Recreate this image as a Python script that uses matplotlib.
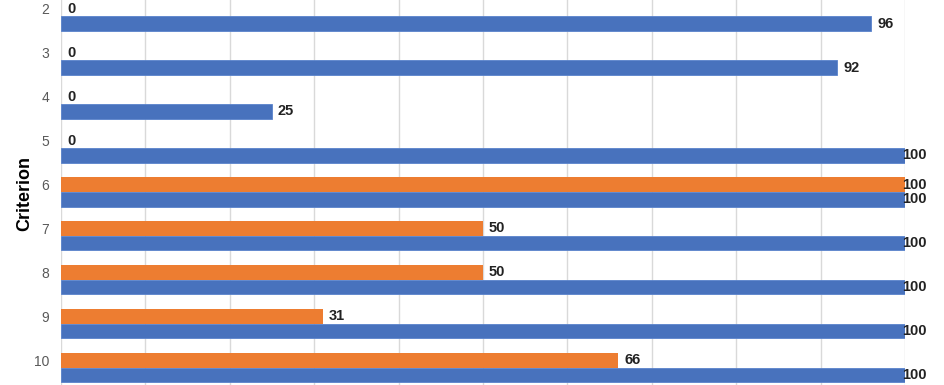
import matplotlib
matplotlib.use('Agg')
import matplotlib.pyplot as plt
import numpy as np

plt.rcParams['font.family'] = ['Liberation Sans', 'DejaVu Sans']

# criteria shown (chart is cropped at top/bottom)
criteria = [2, 3, 4, 5, 6, 7, 8, 9, 10]
orange_vals = [0, 0, 0, 0, 100, 50, 50, 31, 66]
blue_vals = [96, 92, 25, 100, 100, 100, 100, 100, 100]

orange = '#ED7D31'
blue = '#4872BD'

fig = plt.figure(figsize=(9.44, 3.85), dpi=100)
ax = fig.add_axes([61/944, 0, 844/944, 1])

y = np.array(criteria, dtype=float)
h = 1/3

ax.barh(y, orange_vals, height=h, color=orange, linewidth=0, zorder=3)
ax.barh(y + h, blue_vals, height=h, color=blue, edgecolor='#5A83CC', linewidth=0.6, zorder=3)

def label(xv, yv):
    off = 6 if xv < 100 else -3
    ax.annotate(str(xv), (xv, yv), xytext=(off, 0), textcoords='offset pixels',
                ha='left', va='center', fontsize=10.5, fontweight='bold',
                color='#222222', clip_on=False, zorder=5)

for yi, o, b in zip(y, orange_vals, blue_vals):
    label(o, yi)
    label(b, yi + h)

ax.set_xlim(0, 100)
ax.set_xticks(np.arange(0, 101, 10))
ax.set_ylim(10.565, 1.795)
ax.set_yticks(y)
ax.set_yticklabels([str(c) for c in criteria])
ax.tick_params(axis='y', length=0, pad=8.6, labelsize=10, labelcolor='#595959')
ax.tick_params(axis='x', length=0, labelbottom=False)
ax.grid(axis='x', color='#D9D9D9', linewidth=1, zorder=0)
for s in ax.spines.values():
    s.set_visible(False)

fig.text(25/944, 1 - 194/385, 'Criterion', rotation=90, ha='center', va='center',
         fontsize=13, fontweight='bold', color='black')

fig.savefig('out.png', dpi=100)
